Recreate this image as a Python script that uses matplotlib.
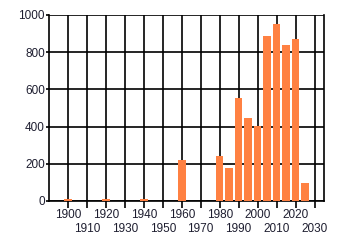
import matplotlib
matplotlib.use("Agg")
import matplotlib.pyplot as plt

# five-year bins, values
anos = [1900, 1920, 1940, 1960, 1980, 1985, 1990, 1995, 2000, 2005, 2010, 2015, 2020, 2025]
valores = [10, 10, 10, 220, 242, 177, 555, 447, 402, 888, 952, 840, 871, 97]

decadas_pares = [1900, 1920, 1940, 1960, 1980, 2000, 2020]
decadas_impares = [1910, 1930, 1950, 1970, 1990, 2010, 2030]
ticks_y = [0, 200, 400, 600, 800, 1000]

cor_texto = "#1e1e30"
cor_barra = "#ff8142"

plt.rcParams['font.family'] = ['Liberation Sans', 'DejaVu Sans']

fig = plt.figure(figsize=(3.4, 2.45), dpi=100)
ax = fig.add_axes([0.144, 0.18, 0.809, 0.759])

ax.bar(anos, valores, width=4, color=cor_barra, zorder=3)

ax.set_xlim(1890, 2035)
ax.set_ylim(0, 1000)

# linhas pares em cima, impares na segunda fileira
ax.set_xticks(decadas_pares)
ax.set_xticklabels([str(d) for d in decadas_pares])
ax.set_xticks(decadas_impares, minor=True)
ax.set_xticklabels([str(d) for d in decadas_impares], minor=True)
ax.set_yticks(ticks_y)

ax.grid(True, which="major", color="black", linewidth=1.2, zorder=1)
ax.grid(True, which="minor", axis="x", color="black", linewidth=1.2, zorder=1)
for lado in ["left", "right", "bottom"]:
    ax.spines[lado].set_linewidth(1.2)
    ax.spines[lado].set_color("black")
ax.spines["top"].set_visible(False)

ax.tick_params(axis="x", which="major", length=5, width=1.2, color="black",
               labelsize=8.5, labelcolor=cor_texto, pad=1)
ax.tick_params(axis="x", which="minor", length=5, width=1.2, color="black",
               labelsize=8.5, labelcolor=cor_texto, pad=11)
ax.tick_params(axis="y", length=2, width=1.2, color="black",
               labelsize=8.5, labelcolor=cor_texto, pad=1)

fig.savefig("out.png", dpi=100)
